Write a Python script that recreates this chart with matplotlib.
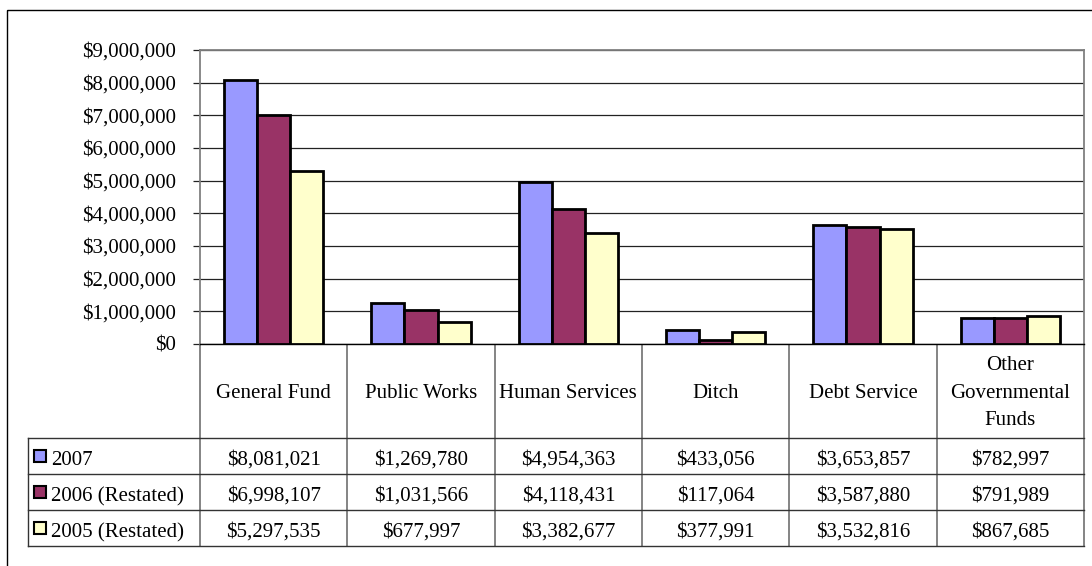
import matplotlib
matplotlib.use('Agg')
import matplotlib.pyplot as plt
from matplotlib.ticker import FuncFormatter, MultipleLocator
from matplotlib.transforms import blended_transform_factory
from matplotlib.patches import Rectangle

# data
categories = ['General Fund', 'Public Works', 'Human Services', 'Ditch',
              'Debt Service', 'Other\nGovernmental\nFunds']
series_names = ['2007', '2006 (Restated)', '2005 (Restated)']
v2007 = [8081021, 1269780, 4954363, 433056, 3653857, 782997]
v2006 = [6998107, 1031566, 4118431, 117064, 3587880, 791989]
v2005 = [5297535, 677997, 3382677, 377991, 3532816, 867685]
colors = ['#9999FF', '#993366', '#FFFFCC']

plt.rcParams['font.family'] = ['Liberation Serif', 'DejaVu Serif']
fs = 15
W, H = 1092, 566
fig = plt.figure(figsize=(W/100, H/100), dpi=100)

# overlay in pixel coordinates (y down)
ov = fig.add_axes([0, 0, 1, 1])
ov.set_xlim(0, W)
ov.set_ylim(H, 0)
ov.axis('off')
ov.add_patch(Rectangle((7, 10), 1200, 700, fill=False, edgecolor='black', lw=1))

px_l, px_r, px_t, px_b = 200, 1084, 50, 344
ax = fig.add_axes([px_l/W, 1-px_b/H, (px_r-px_l)/W, (px_b-px_t)/H])
n = len(categories)
bw = 0.225
allvals = [v2007, v2006, v2005]
for k, vals in enumerate(allvals):
    xs = [i + (k-1)*bw for i in range(n)]
    ax.bar(xs, vals, width=bw, color=colors[k], edgecolor='black', linewidth=2.0, zorder=3)
ax.set_xlim(-0.5, n-0.5)
ax.set_ylim(0, 9000000)
ax.yaxis.set_major_locator(MultipleLocator(1000000))
ax.yaxis.set_major_formatter(FuncFormatter(lambda v, p: '${:,.0f}'.format(v)))
ax.grid(axis='y', color='#222222', lw=0.9, zorder=0)
ax.set_xticks([])
ax.tick_params(axis='y', direction='out', length=5, width=0.9, color='#222222',
               labelsize=fs, pad=12)
for s in ['top', 'right', 'left']:
    ax.spines[s].set_color('#808080')
    ax.spines[s].set_linewidth(1.3)
ax.spines['bottom'].set_color('black')
ax.spines['bottom'].set_linewidth(1.0)

# data table
tr = blended_transform_factory(ax.transData, ov.transData)
row_top = [438, 474, 510]
row_h = 36
tbl_bot = 546
for i in range(n + 1):
    ov.plot([i-0.5, i-0.5], [px_b, tbl_bot], color='#707070', lw=1.2, transform=tr, clip_on=False)
ov.plot([28, 28], [row_top[0], tbl_bot], color='#333333', lw=1)
for y in row_top + [tbl_bot]:
    ov.plot([28, px_r], [y, y], color='#333333', lw=1)
for i, c in enumerate(categories):
    ov.text(i, 393, c, transform=tr, ha='center', va='center', fontsize=fs, linespacing=1.6)
for k, vals in enumerate(allvals):
    yc = row_top[k] + row_h/2 + 2
    ov.add_patch(Rectangle((34, yc-8), 12, 12, facecolor=colors[k], edgecolor='black', lw=1.5))
    ov.text(51, yc, series_names[k], ha='left', va='center_baseline', fontsize=fs)
    for i, v in enumerate(vals):
        ov.text(i, yc, '${:,.0f}'.format(v), transform=tr, ha='center', va='center_baseline', fontsize=fs)

fig.savefig('out.png', dpi=100)
